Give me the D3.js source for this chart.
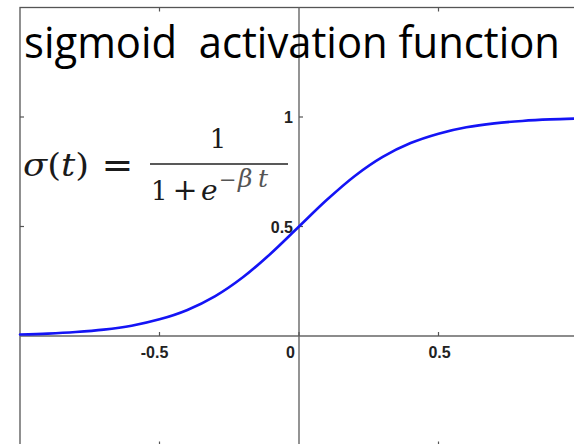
<!DOCTYPE html>
<html>
<head>
<meta charset="utf-8">
<script src="https://cdn.jsdelivr.net/npm/d3@7"></script>
<style>
  html, body { margin: 0; padding: 0; background: #fff; overflow: hidden; }
  svg { display: block; }
  .tick-label { font-family: "Liberation Sans", Arial, sans-serif; font-weight: bold; font-size: 16px; fill: #222; }
  .title { font-family: "Open Sans", "Lato", sans-serif; font-size: 44px; fill: #000; white-space: pre; }
  .math { font-family: "DejaVu Serif", "Liberation Serif", serif; fill: #1a1a1a; }
</style>
</head>
<body>
<svg id="chart" width="574" height="444"></svg>
<script>
// Axis ticks
const xTicks = [-0.5, 0, 0.5];
const yTicks = [0.5, 1];
const xTickLabels = ["-0.5", "0", "0.5"];
const yTickLabels = ["0.5", "1"];

// Sampled sigmoid curve (t, sigma(t))
const tValues = [-1.0, -0.9, -0.8, -0.7, -0.6, -0.5, -0.4, -0.3, -0.2, -0.1, 0.0,
                 0.1, 0.2, 0.3, 0.4, 0.5, 0.6, 0.7, 0.8, 0.9, 1.0];
const sigmaValues = [0.007, 0.011, 0.018, 0.029, 0.047, 0.076, 0.119, 0.182, 0.269, 0.378, 0.500,
                     0.622, 0.731, 0.818, 0.881, 0.924, 0.953, 0.971, 0.982, 0.989, 0.993];

const svg = d3.select("#chart");

const x = d3.scaleLinear().domain([-1, 1]).range([20, 578]);
const y = d3.scaleLinear().domain([-0.5, 1.5]).range([445.5, 7.5]);

// Outer frame
svg.append("rect")
  .attr("x", x(-1)).attr("y", y(1.5))
  .attr("width", x(1) - x(-1)).attr("height", y(-0.5) - y(1.5))
  .attr("fill", "none").attr("stroke", "#555").attr("stroke-width", 1.3);

// Frame ticks (pointing inward)
const tickLen = 4;
const frameTicks = svg.append("g").attr("stroke", "#555").attr("stroke-width", 1.2);
xTicks.filter(d => d !== 0).forEach(d => {
  frameTicks.append("line").attr("x1", x(d)).attr("x2", x(d)).attr("y1", y(1.5)).attr("y2", y(1.5) + tickLen);
  frameTicks.append("line").attr("x1", x(d)).attr("x2", x(d)).attr("y1", y(-0.5)).attr("y2", y(-0.5) - tickLen);
});
yTicks.forEach(d => {
  frameTicks.append("line").attr("x1", x(-1)).attr("x2", x(-1) + tickLen).attr("y1", y(d)).attr("y2", y(d));
});

// Centre axes
const axes = svg.append("g").attr("stroke", "#666").attr("stroke-width", 1.4);
axes.append("line").attr("x1", x(-1)).attr("x2", x(1)).attr("y1", y(0)).attr("y2", y(0));
axes.append("line").attr("x1", x(0)).attr("x2", x(0)).attr("y1", y(1.5)).attr("y2", y(-0.5));

const axisTicks = svg.append("g").attr("stroke", "#555").attr("stroke-width", 1.2);
xTicks.forEach(d => {
  axisTicks.append("line").attr("x1", x(d)).attr("x2", x(d)).attr("y1", y(0)).attr("y2", y(0) - tickLen);
});
yTicks.forEach(d => {
  axisTicks.append("line").attr("x1", x(0)).attr("x2", x(0) + tickLen).attr("y1", y(d)).attr("y2", y(d));
});

// Tick labels
xTicks.forEach((d, i) => {
  const t = svg.append("text").attr("class", "tick-label")
    .attr("y", y(0) + 22)
    .text(xTickLabels[i]);
  if (d === 0) {
    t.attr("x", x(0) - 4).attr("text-anchor", "end");
  } else {
    t.attr("x", x(d) - (d < 0 ? 5 : -1)).attr("text-anchor", "middle");
  }
});
yTicks.forEach((d, i) => {
  svg.append("text").attr("class", "tick-label")
    .attr("x", x(0) - 6).attr("y", y(d) + 6)
    .attr("text-anchor", "end")
    .text(yTickLabels[i]);
});

// Sigmoid curve
const points = tValues.map((t, i) => [t, sigmaValues[i]]);
const line = d3.line()
  .x(d => x(d[0]))
  .y(d => y(d[1]))
  .curve(d3.curveCatmullRom.alpha(0.5));
svg.append("path")
  .datum(points)
  .attr("d", line)
  .attr("fill", "none")
  .attr("stroke", "#1414f5")
  .attr("stroke-width", 2.6)
  .attr("stroke-linecap", "round");

// Title
svg.append("text").attr("class", "title")
  .attr("x", 24).attr("y", 58)
  .attr("textLength", 536).attr("lengthAdjust", "spacingAndGlyphs")
  .text("sigmoid  activation function");

// Formula: sigma(t) = 1 / (1 + e^{-beta t})
const m = svg.append("g").attr("class", "math");
m.append("text").attr("x", 23).attr("y", 176).attr("font-size", 31)
  .attr("textLength", 66).attr("lengthAdjust", "spacingAndGlyphs")
  .html('<tspan font-style="italic">σ</tspan>(<tspan font-style="italic">t</tspan>)');
m.append("text").attr("x", 117.5).attr("y", 178).attr("font-size", 38)
  .attr("text-anchor", "middle").text("=");
m.append("line").attr("x1", 150).attr("x2", 288).attr("y1", 164).attr("y2", 164)
  .attr("stroke", "#222").attr("stroke-width", 1.6);
m.append("text").attr("x", 218).attr("y", 148).attr("font-size", 26).attr("text-anchor", "middle").text("1");
m.append("text").attr("x", 151).attr("y", 200).attr("font-size", 26).text("1");
m.append("text").attr("x", 185).attr("y", 200).attr("font-size", 30).attr("text-anchor", "middle").text("+");
m.append("text").attr("x", 201).attr("y", 200).attr("font-size", 28).attr("font-style", "italic").text("e");
const sup = m.append("g").attr("fill", "#555");
sup.append("text").attr("x", 219).attr("y", 187).attr("font-size", 21).text("−");
sup.append("text").attr("x", 238).attr("y", 187).attr("font-size", 25).attr("font-style", "italic").text("β");
sup.append("text").attr("x", 258).attr("y", 187).attr("font-size", 25).attr("font-style", "italic").text("t");
</script>
</body>
</html>
